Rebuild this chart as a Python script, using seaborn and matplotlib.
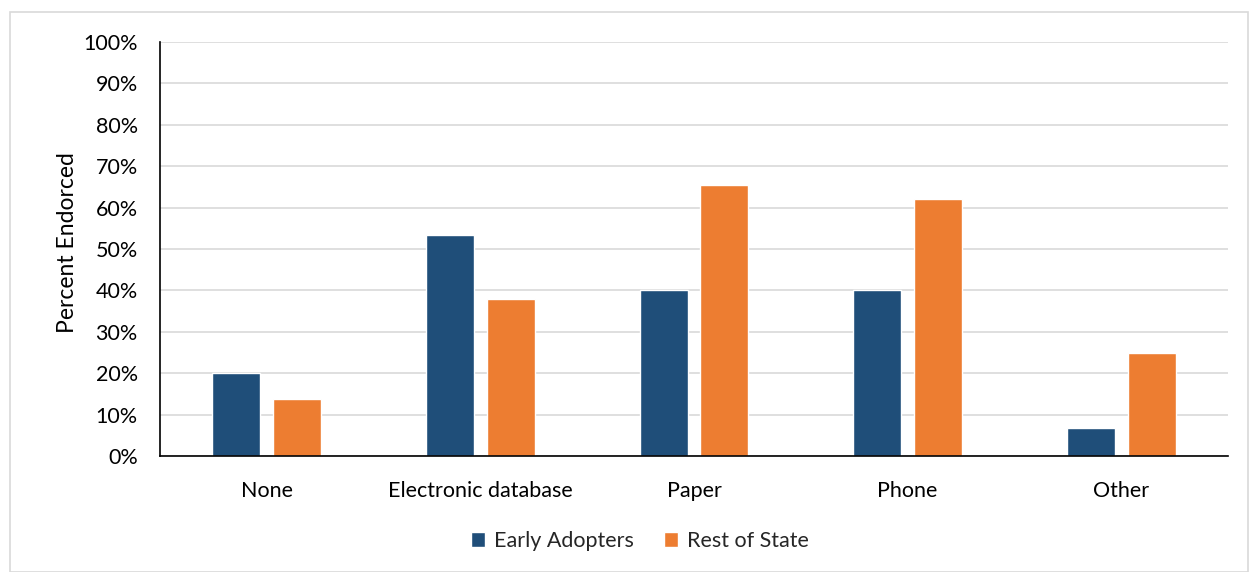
import matplotlib
matplotlib.use("Agg")
import matplotlib.pyplot as plt
import seaborn as sns
import pandas as pd
from matplotlib.patches import Rectangle
from matplotlib.ticker import PercentFormatter

categories = ["None", "Electronic database", "Paper", "Phone", "Other"]
early_adopters = [20.0, 53.3, 40.0, 40.0, 6.7]
rest_of_state = [13.8, 37.9, 65.5, 62.1, 25.0]
series_names = ["Early Adopters", "Rest of State"]
colors = ["#1F4E79", "#ED7D31"]
y_ticks = list(range(0, 101, 10))

df = pd.DataFrame({
    "Category": categories * 2,
    "Value": early_adopters + rest_of_state,
    "Series": [series_names[0]] * len(categories) + [series_names[1]] * len(categories),
})

sns.set_theme(style="white")
plt.rcParams["font.family"] = ["Lato", "DejaVu Sans"]
FS = 15.5

fig = plt.figure(figsize=(12.52, 5.72), dpi=100)
ax = fig.add_axes([160 / 1252, 1 - 456 / 572, (1228 - 160) / 1252, (456 - 42) / 572])

sns.barplot(data=df, x="Category", y="Value", hue="Series", order=categories,
            hue_order=series_names, palette=colors, width=0.571, gap=0.213,
            saturation=1, ax=ax, legend=True)

ax.set_ylim(0, 100)
ax.set_xlim(-0.5, len(categories) - 0.5)
ax.set_yticks(y_ticks)
ax.yaxis.set_major_formatter(PercentFormatter(decimals=0))
ax.grid(axis="y", color="#D9D9D9", linewidth=1.2)
ax.set_axisbelow(True)
for s in ["top", "right"]:
    ax.spines[s].set_visible(False)
ax.spines["left"].set_color("black")
ax.spines["bottom"].set_color("black")
ax.spines["left"].set_linewidth(1.2)
ax.spines["bottom"].set_linewidth(1.2)
ax.tick_params(axis="both", length=0, labelsize=FS, colors="black")
ax.tick_params(axis="y", pad=16)
ax.tick_params(axis="x", pad=18)
ax.set_xlabel("")
ax.set_ylabel("Percent Endorced", fontsize=16.5, color="black")
ax.yaxis.set_label_coords((78 - 160) / 1068, (456 - 243) / 414)

leg = ax.legend(loc="center", bbox_to_anchor=(640 / 1252, 1 - 541 / 572),
                bbox_transform=fig.transFigure, ncol=2, frameon=False,
                fontsize=FS, handlelength=0.65, handleheight=0.65,
                handletextpad=0.4, columnspacing=1.4)

fig.patches.append(Rectangle((10 / 1252, 0), (1248 - 10) / 1252, 1 - 12 / 572,
                             transform=fig.transFigure, fill=False,
                             edgecolor="#D9D9D9", linewidth=1.2))

fig.savefig("out.png", dpi=100)
